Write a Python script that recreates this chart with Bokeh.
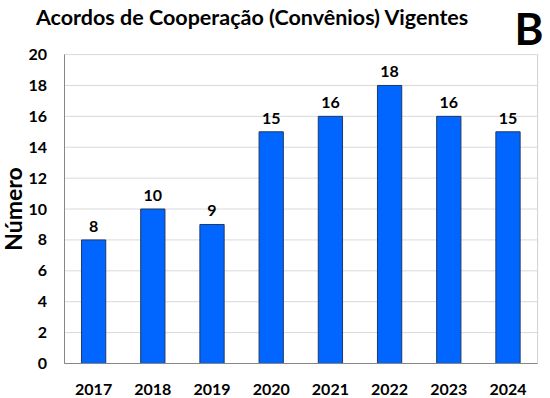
from bokeh.plotting import figure
from bokeh.models import ColumnDataSource, Range1d, FixedTicker
from bokeh.core.properties import value
from bokeh.embed import file_html
from bokeh.resources import INLINE

years = ["2017", "2018", "2019", "2020", "2021", "2022", "2023", "2024"]
counts = [8, 10, 9, 15, 16, 18, 16, 15]
y_ticks = [0, 2, 4, 6, 8, 10, 12, 14, 16, 18, 20]
title_text = "Acordos de Cooperação (Convênios) Vigentes"
panel_letter = "B"
y_label = "Número"

FONT = "Lato"
n = len(years)
idx = list(range(n))
y_top = y_ticks[-1]

src = ColumnDataSource(dict(x=idx, y=counts, t=[str(c) for c in counts]))

p = figure(width=550, height=398, x_range=Range1d(-1.573, 7.718), y_range=Range1d(-2.266, 23.5),
           output_backend="svg", toolbar_location=None, min_border=0)
p.title.visible = False
p.outline_line_color = None
p.grid.visible = False

# horizontal grid lines and the right edge of the plot box
p.segment(x0=[-0.5] * len(y_ticks), x1=[n - 0.5] * len(y_ticks), y0=y_ticks, y1=y_ticks,
          line_color="#D9D9D9", line_width=1)
p.segment(x0=[n - 0.5], x1=[n - 0.5], y0=[0], y1=[y_top], line_color="#D0D0D0", line_width=1)

p.vbar(x="x", top="y", width=0.41, source=src, fill_color="#0066FF",
       line_color="#203864", line_width=1)
p.text(x="x", y="y", text="t", source=src, text_align="center", text_baseline="bottom",
       y_offset=-8, text_font=value(FONT), text_font_style="bold",
       text_font_size="16px", text_color="#000000")

# title and panel letter
p.text(x=[2.684], y=[22.41], text=[title_text], text_align="center",
       text_baseline="alphabetic", text_font=value(FONT), text_font_style="bold",
       text_font_size="21.5px", text_color="#000000")
p.text(x=[7.355], y=[21.71], text=[panel_letter], text_align="center",
       text_baseline="alphabetic", text_font=value(FONT), text_font_style="bold",
       text_font_size="44px", text_color="#000000")

p.xaxis.ticker = FixedTicker(ticks=idx)
p.xaxis.major_label_overrides = {i: yr for i, yr in zip(idx, years)}
p.xaxis.bounds = (-0.5, n - 0.5)
p.xaxis.fixed_location = 0
p.yaxis.ticker = FixedTicker(ticks=y_ticks)
p.yaxis.bounds = (0, y_top)
p.yaxis.fixed_location = -0.5
for ax in (p.xaxis[0], p.yaxis[0]):
    ax.axis_line_color = "#868686"
    ax.major_tick_line_color = None
    ax.minor_tick_line_color = None
    ax.major_tick_out = 0
    ax.major_tick_in = 0
    ax.major_label_text_font = FONT
    ax.major_label_text_font_style = "bold"
    ax.major_label_text_font_size = "16px"
    ax.major_label_text_color = "#000000"
p.yaxis.major_label_standoff = 17
p.xaxis.major_label_standoff = 21

p.yaxis.axis_label = y_label
p.yaxis.axis_label_text_font = FONT
p.yaxis.axis_label_text_font_style = "bold"
p.yaxis.axis_label_text_font_size = "23px"
p.yaxis.axis_label_text_color = "#000000"
p.yaxis.axis_label_standoff = -1

open("out.html", "w").write(file_html(p, INLINE))
